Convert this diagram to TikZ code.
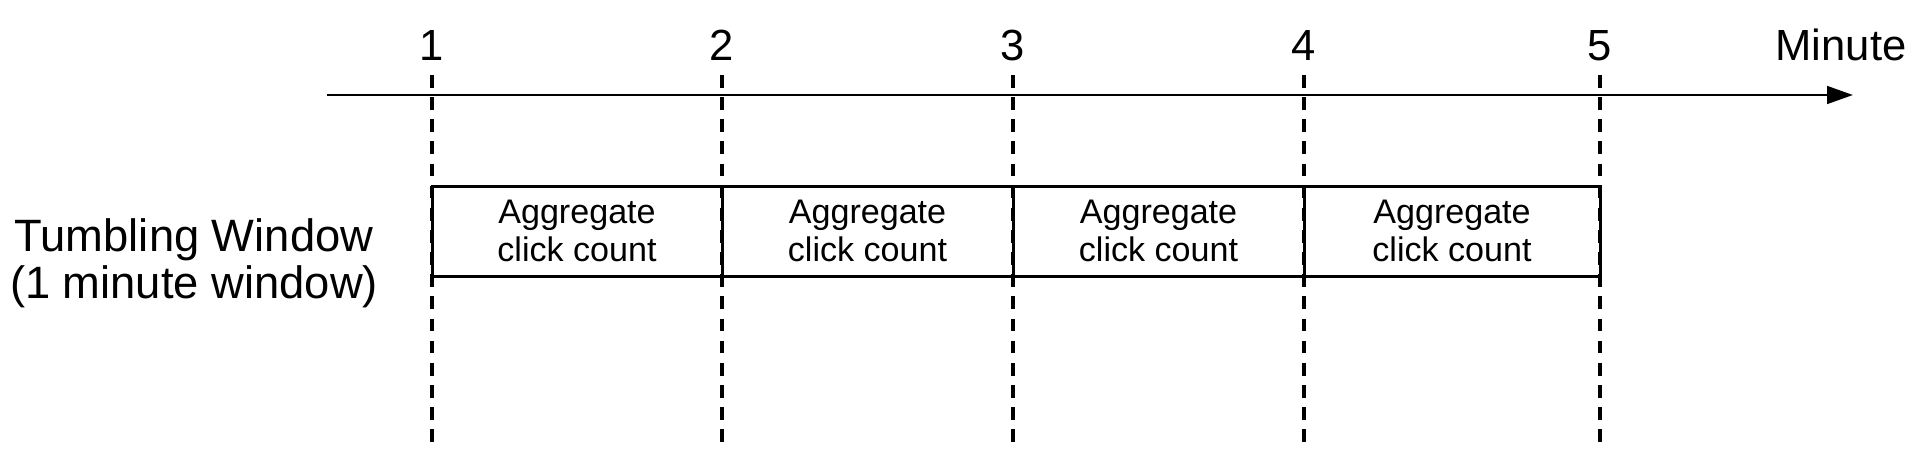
\documentclass[tikz,border=0pt]{standalone}
\usepackage{fontspec}
\setmainfont{Liberation Sans}
\usetikzlibrary{arrows.meta,positioning,fit}

\begin{document}
\begin{tikzpicture}[
  tick/.style={line width=0.9pt, dash pattern=on 3.6pt off 2.7pt},
  axis/.style={line width=0.85pt, -{Triangle[length=7.4pt,width=5pt]}},
  minlabel/.style={font=\fontsize{12.4}{14}\selectfont, anchor=base, inner sep=0pt},
  winbox/.style={draw, line width=0.85pt, inner sep=0pt},
  wintext/.style={align=center, font=\fontsize{9.7}{11}\selectfont},
]
  \useasboundingbox (0,0) rectangle (19.2,-4.73);

  % Minute labels
  \node[minlabel] (l1) at (4.32,-0.60) {1};
  \node[minlabel] (l2) at (7.22,-0.60) {2};
  \node[minlabel] (l3) at (10.13,-0.60) {3};
  \node[minlabel] (l4) at (13.04,-0.60) {4};
  \node[minlabel] (l5) at (16.00,-0.60) {5};
  \node[minlabel] (unit) at (18.41,-0.60) {Minute};

  % box corners (t = top, u = bottom) and ends of the dashed ticks
  \coordinate (t1) at (4.32,-1.86);  \coordinate (u1) at (4.32,-2.76);
  \coordinate (t2) at (7.22,-1.86);  \coordinate (u2) at (7.22,-2.76);
  \coordinate (t3) at (10.13,-1.86); \coordinate (u3) at (10.13,-2.76);
  \coordinate (t4) at (13.04,-1.86); \coordinate (u4) at (13.04,-2.76);
  \coordinate (t5) at (16.00,-1.86); \coordinate (u5) at (16.00,-2.76);
  \coordinate (e1) at (4.32,-4.47);
  \coordinate (e2) at (7.22,-4.47);
  \coordinate (e3) at (10.13,-4.47);
  \coordinate (e4) at (13.04,-4.47);
  \coordinate (e5) at (16.00,-4.47);

  % Dashed ticks
  \draw[tick] ([yshift=-1.5mm]l1.base) -- (e1);
  \draw[tick] ([yshift=-1.5mm]l2.base) -- (e2);
  \draw[tick] ([yshift=-1.5mm]l3.base) -- (e3);
  \draw[tick] ([yshift=-1.5mm]l4.base) -- (e4);
  \draw[tick] ([yshift=-1.5mm]l5.base) -- (e5);

  % Time axis
  \coordinate (axstart) at (3.27,-0.95);
  \coordinate (axend) at (18.53,-0.95);
  \draw[axis] (axstart) -- (axend);

  % Windows
  \node[winbox, fit=(t1)(u2)] (w1) {};
  \node[winbox, fit=(t2)(u3)] (w2) {};
  \node[winbox, fit=(t3)(u4)] (w3) {};
  \node[winbox, fit=(t4)(u5)] (w4) {};
  \node[wintext] (c1) at (w1.center) {Aggregate\\click count};
  \node[wintext] (c2) at (w2.center) {Aggregate\\click count};
  \node[wintext] (c3) at (w3.center) {Aggregate\\click count};
  \node[wintext] (c4) at (w4.center) {Aggregate\\click count};

  % Row label
  \node[font=\fontsize{12.9}{13.3}\selectfont, align=center] (rowlabel) at (1.94,-2.63)
    {Tumbling Window\\(1 minute window)};
\end{tikzpicture}
\end{document}
